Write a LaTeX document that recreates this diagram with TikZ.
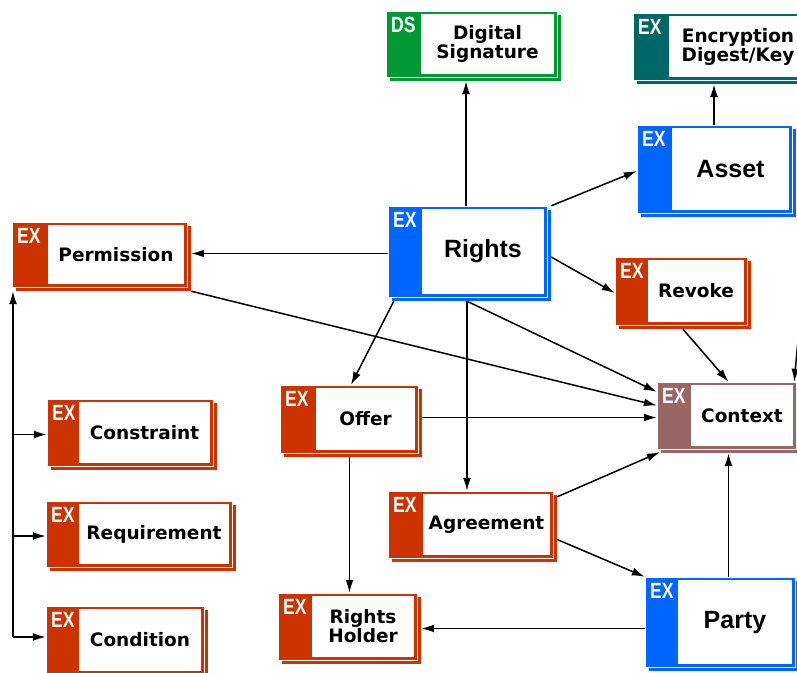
\documentclass[tikz,border=0pt]{standalone}
\usepackage{fontspec}
\usepackage{graphicx}
\usetikzlibrary{arrows.meta,fit,calc}
\newfontfamily\tagfam{Liberation Sans}
\newfontfamily\labfam{DejaVu Sans}
\newfontfamily\bigfam{Liberation Sans}
\newcommand\tagf{\tagfam\bfseries\fontsize{22}{22}\selectfont}
\newcommand\labf{\labfam\bfseries\fontsize{18.5}{21.5}\selectfont}
\newcommand\bigf{\bigfam\bfseries\fontsize{25}{28}\selectfont}
\definecolor{exred}{RGB}{204,51,0}
\definecolor{exblue}{RGB}{0,102,255}
\definecolor{dsgreen}{RGB}{0,153,51}
\definecolor{exteal}{RGB}{0,102,102}
\definecolor{ctxbrown}{RGB}{153,102,102}
% #1 name, #2 x0, #3 y0, #4 x1, #5 y1, #6 band, #7 colour, #8 tag, #9 label
\newcommand\exbox[9]{%
  \fill[#7] ({#2+4},{#3+4}) rectangle ({#4+4},{#5+4});
  \filldraw[fill=#7, draw=white, line width=0.35pt] (#2,#3) rectangle (#4,#5);
  \fill[white] ({#2+#6},{#3+3}) rectangle ({#4-3},{#5-3});
  \node[tagtext] (#1-tag) at ({#2+5},{#3+21}) {\tagf\scalebox{0.8}[1]{#8}};
  \node[inner sep=0pt, fit={(#2,#3)({#4+4},{#5+4})}] (#1) {};
  \node[align=center, inner sep=0pt] (#1-label) at ({(#2+#6+#4-3)/2},{(#3+#5)/2}) {#9};
}
\begin{document}
\begin{tikzpicture}[x=1pt,y=-1pt,
  arr/.style={line width=1.5pt, -{Latex[length=13pt,width=8pt]}},
  tagtext/.style={anchor=base west, inner sep=0pt, text=white}]
\useasboundingbox (0,0) rectangle (797,672);
\clip (0,0) rectangle (797,672);
\fill[white] (0,0) rectangle (797,672);

\exbox{ds}{386}{11}{557}{77}{35}{dsgreen}{DS}{\labf Digital\\\labf Signature}
\exbox{enc}{633}{13}{810}{80}{36}{exteal}{EX}{\labf Encryption\\\labf Digest/Key}
\exbox{asset}{637}{125}{792}{213}{35}{exblue}{EX}{\bigf Asset}
\exbox{rights}{388}{206}{547}{297}{34}{exblue}{EX}{\bigf Rights}
\exbox{perm}{12}{222}{187}{287}{36}{exred}{EX}{\labf Permission}
\exbox{revoke}{615}{257}{747}{325}{33}{exred}{EX}{\labf Revoke}
\exbox{offer}{280}{385}{418}{453}{36}{exred}{EX}{\labf Offer}
\exbox{context}{657}{382}{796}{449}{34}{ctxbrown}{EX}{\labf Context}
\exbox{constraint}{47}{399}{213}{466}{32}{exred}{EX}{\labf Constraint}
\exbox{requirement}{46}{501}{232}{567}{33}{exred}{EX}{\labf Requirement}
\exbox{agreement}{388}{491}{553}{558}{35}{exred}{EX}{\labf Agreement}
\exbox{condition}{46}{606}{204}{674}{33}{exred}{EX}{\labf Condition}
\exbox{rh}{278}{593}{417}{660}{34}{exred}{EX}{\labf Rights\\\labf Holder}
\exbox{party}{645}{577}{795}{667}{33}{exblue}{EX}{\bigf Party}

% connectors
\coordinate (rtop) at ($(rights.north)+(-3.5,0)$);
\draw[arr] (rtop) -- (rtop |- ds.south);
\coordinate (atop) at ($(asset.north)+(-2.5,0)$);
\draw[arr] (atop) -- (atop |- enc.south);
\draw[arr] (rights.north east) -- (asset.west);
\draw[arr] (rights.west) -- (rights.west -| perm.east);
\draw[arr] ($(rights.east)+(0,3.5)$) -- (revoke.west);
\draw[arr] (revoke.south) -- (context.north);
\draw[arr] (perm.south east) -- ($(context.west)+(0,-12)$);
\coordinate (rbot) at ($(rights.south)+(-2.5,0)$);
\draw[arr] (rbot) -- (rbot |- agreement.north);
\draw[arr] (rbot) -- ($(context.north west)+(0,10)$);
\draw[arr] ($(rights.south west)+(6,0)$) -- (offer.north);
\draw[arr] (context.west -| offer.east) -- (context.west);
\draw[arr] (offer.south -| rh.north) -- (rh.north);
\draw[arr] ($(agreement.north east)+(0,6)$) -- ($(context.south west)+(3,-1)$);
\draw[arr] ($(agreement.east)+(0,13)$) -- (party.north west);
\draw[arr] (party.north -| context.south) -- (context.south);
\draw[arr] (party.west |- rh.east) -- (rh.east);
\coordinate (tb) at (13,637);
\draw[arr] (tb) -- (tb |- perm.south);
\draw[arr] (tb |- constraint.west) -- (constraint.west);
\draw[arr] (tb |- requirement.west) -- (requirement.west);
\draw[arr] (tb) -- (tb -| condition.west);
\coordinate (redge) at (798,340);
\draw[arr] (redge) -- ($(context.north east)+(-6,0)$);
\end{tikzpicture}
\end{document}
